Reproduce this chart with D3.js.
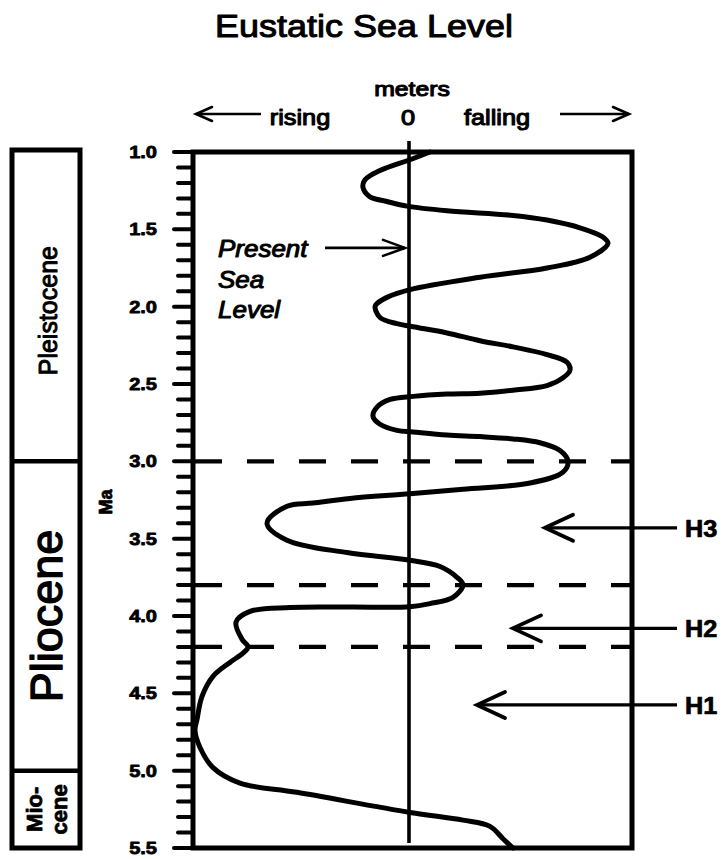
<!DOCTYPE html>
<html><head><meta charset="utf-8">
<script src="https://cdn.jsdelivr.net/npm/d3@7"></script>
<style>
body{margin:0;background:#fff}
svg{display:block}
text{font-family:"Liberation Sans",Arial,Helvetica,sans-serif;fill:#000}
</style></head>
<body><svg id="c" width="723" height="859"></svg>
<script>
// ---- data ----
const ages = [1.00,1.05,1.12,1.18,1.23,1.29,1.32,1.35,
  1.38,1.41,1.44,1.49,1.55,1.59,1.68,1.75,1.81,1.89,
  1.94,1.98,2.00,2.07,2.11,2.13,2.17,2.22,2.26,2.31,
  2.36,2.41,2.46,2.51,2.54,2.56,2.565,2.58,2.60,2.65,
  2.71,2.76,2.80,2.81,2.83,2.84,2.855,2.88,2.93,3.00,
  3.07,3.14,3.18,3.21,3.24,3.27,3.29,3.40,3.51,3.59,
  3.64,3.68,3.75,3.80,3.88,3.92,3.94,3.942,3.945,3.97,
  4.04,4.15,4.20,4.24,4.30,4.39,4.52,4.67,4.74,4.85,
  4.98,5.08,5.14,5.27,5.32,5.36,5.44,5.50];
const seaLevel = [10.5,0.5,-14.5,-22,-23,-19.5,-11,-1,
  19,52,69,85.5,97,99.5,90.5,69,35.5,0.5,
  -11,-16,-17,-14.5,-6,2,19,35.5,52,69,
  79,80.5,77,69,52,35.5,19,2,-9.5,-16,
  -18,-14.5,-6,2,19,35.5,52,65.5,75.5,79.5,
  77,60.5,27,0.5,-29.5,-48,-61,-71,-61,-31,
  0.5,15.5,24,27,22,10.5,0.5,-29.5,-59.5,-79.5,
  -86.5,-83.5,-80.5,-83,-89.5,-98,-103.5,-106,-107,-104.5,
  -98,-84.5,-56,0.5,27,40.5,47,52];
const majorTicks = [1.0,1.5,2.0,2.5,3.0,3.5,4.0,4.5,5.0,5.5];
const dashedAges = [3.0,3.8,4.2];
const hLabels = ["H3","H2","H1"];
const hAges = [3.43,4.08,4.575];
const hTips = [68,52,34];
const epochNames = ["Pleistocene","Pliocene","Miocene"];
const epochBounds = [1.0,3.0,5.0,5.5];

// ---- scales ----
const svg = d3.select("#c");
const y = d3.scaleLinear().domain([1,5.5]).range([152,848]);
const x = d3.scaleLinear().domain([-108,111.5]).range([193,632]);
const x0 = x.range()[0], x1 = x.range()[1];

function txt(g, tx, ty, s, o){
  o = o||{};
  const t = g.append("text")
    .attr("transform", `translate(${tx},${ty})` + (o.rot?` rotate(${o.rot})`:"") + ` scale(${o.sx||1},1)`)
    .attr("font-size", o.size||20)
    .attr("text-anchor", o.anchor||"start")
    .attr("font-weight", o.bold?"bold":"normal")
    .attr("font-style", o.italic?"italic":"normal")
    .attr("stroke","#000").attr("stroke-width", o.stroke==null?0.8:o.stroke)
    .attr("stroke-linejoin","round")
    .text(s);
  return t;
}
function arrowHead(g, tx, ty, dir, len, hw, sw){
  g.append("path")
    .attr("d", `M${tx - dir*len},${ty-hw}L${tx},${ty}L${tx - dir*len},${ty+hw}`)
    .attr("fill","none").attr("stroke","#000").attr("stroke-width",sw)
    .attr("stroke-linejoin","miter").attr("stroke-linecap","round");
}

// title
txt(svg, 364, 37, "Eustatic Sea Level", {size:31, sx:1.16, anchor:"middle", stroke:1});
txt(svg, 412, 96, "meters", {size:21, sx:1.18, anchor:"middle", stroke:1.1});
txt(svg, 300, 125, "rising", {size:22, sx:1.15, anchor:"middle", stroke:1.1});
txt(svg, x(0)-1, 125, "0", {size:22, sx:1.15, anchor:"middle", stroke:1.1});
txt(svg, 497, 125, "falling", {size:22, sx:1.15, anchor:"middle", stroke:1.1});

// header arrows
svg.append("line").attr("x1",196).attr("x2",261).attr("y1",114).attr("y2",114).attr("stroke","#000").attr("stroke-width",2.6);
arrowHead(svg,196,114,-1,16,7,2.6);
svg.append("line").attr("x1",560).attr("x2",629).attr("y1",114).attr("y2",114).attr("stroke","#000").attr("stroke-width",2.6);
arrowHead(svg,629,114,1,16,7,2.6);

// stratigraphic column
const col = svg.append("g");
col.append("rect").attr("x",12).attr("y",y(epochBounds[0])-2).attr("width",68)
  .attr("height",y(epochBounds[3])-y(epochBounds[0])+2)
  .attr("fill","none").attr("stroke","#000").attr("stroke-width",5);
[epochBounds[1],epochBounds[2]].forEach(b=>{
  col.append("line").attr("x1",12).attr("x2",80).attr("y1",y(b)).attr("y2",y(b))
    .attr("stroke","#000").attr("stroke-width",4.5);
});
txt(col, 57, (y(epochBounds[0])+y(epochBounds[1]))/2+4, epochNames[0], {size:25, rot:-90, anchor:"middle", stroke:1});
txt(col, 62, (y(epochBounds[1])+y(epochBounds[2]))/2, epochNames[1], {size:45, rot:-90, anchor:"middle", stroke:1.4});
const mioY = (y(epochBounds[2])+y(epochBounds[3]))/2;
txt(col, 42, mioY, "Mio-", {size:22, rot:-90, anchor:"middle", bold:true, stroke:0.8});
txt(col, 67, mioY, "cene", {size:22, rot:-90, anchor:"middle", bold:true, stroke:0.8});

// Ma label
txt(svg, 112, 502, "Ma", {size:18, rot:-90, anchor:"middle", bold:true, stroke:0.8});

// axis ticks
const minorTicks = d3.range(10,56).map(d=>d/10).filter(d=>!majorTicks.some(m=>Math.abs(m-d)<1e-6));
const ax = svg.append("g");
ax.selectAll("line.minor").data(minorTicks).join("line").attr("class","minor")
  .attr("x1",178).attr("x2",x0).attr("y1",d=>y(d)).attr("y2",d=>y(d))
  .attr("stroke","#000").attr("stroke-width",4).attr("stroke-linecap","round");
ax.selectAll("line.major").data(majorTicks).join("line").attr("class","major")
  .attr("x1",174).attr("x2",x0).attr("y1",d=>y(d)).attr("y2",d=>y(d))
  .attr("stroke","#000").attr("stroke-width",4).attr("stroke-linecap","round");
majorTicks.forEach(d=>{
  txt(ax, 157, y(d)+6, d3.format(".1f")(d), {size:17, sx:1.18, anchor:"end", bold:true, stroke:0.8});
});

// dashed lines
svg.selectAll("line.dash").data(dashedAges).join("line").attr("class","dash")
  .attr("x1",x0+2).attr("x2",x1).attr("y1",d=>y(d)).attr("y2",d=>y(d))
  .attr("stroke","#000").attr("stroke-width",4.2).attr("stroke-dasharray","27 25");

// frame
svg.append("rect").attr("x",x0).attr("y",y(1)).attr("width",x1-x0).attr("height",y(5.5)-y(1))
  .attr("fill","none").attr("stroke","#000").attr("stroke-width",5);

// zero line
svg.append("line").attr("x1",x(0)).attr("x2",x(0)).attr("y1",141).attr("y2",843)
  .attr("stroke","#000").attr("stroke-width",3.6);

// curve
const pts = ages.map((a,i)=>[a,seaLevel[i]]);
svg.append("path").datum(pts)
  .attr("d", d3.line().x(d=>x(d[1])).y(d=>y(d[0])).curve(d3.curveCatmullRom.alpha(0.5)))
  .attr("fill","none").attr("stroke","#000").attr("stroke-width",5)
  .attr("stroke-linejoin","round").attr("stroke-linecap","round");

// Present Sea Level
const psY = y(1.62);
txt(svg, 218, 257, "Present", {size:23, sx:1.13, italic:true, stroke:1});
txt(svg, 218, 288, "Sea", {size:23, sx:1.13, italic:true, stroke:1});
txt(svg, 218, 318, "Level", {size:23, sx:1.13, italic:true, stroke:1});
svg.append("line").attr("x1",325).attr("x2",x(0)-4).attr("y1",psY).attr("y2",psY).attr("stroke","#000").attr("stroke-width",2.6);
arrowHead(svg,x(0)-4,psY,1,22,8,2.6);

// H arrows
hLabels.forEach((h,i)=>{
  const yy = y(hAges[i]);
  svg.append("line").attr("x1",x(hTips[i])).attr("x2",677).attr("y1",yy).attr("y2",yy)
    .attr("stroke","#000").attr("stroke-width",3.2);
  arrowHead(svg,x(hTips[i]),yy,-1,28,13,3.8);
  txt(svg, 685, yy+9, h, {size:23, sx:1.1, bold:true, stroke:0.7});
});
</script></body></html>
